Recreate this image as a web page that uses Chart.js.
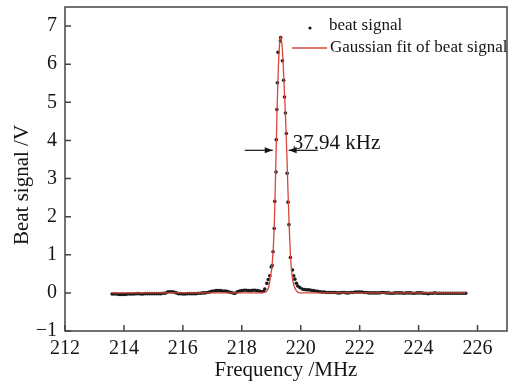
<!DOCTYPE html>
<html>
<head>
<meta charset="utf-8">
<script src="https://cdn.jsdelivr.net/npm/chart.js@4.4.1/dist/chart.umd.min.js"></script>
<style>
  body { margin: 0; background: #fff; }
  #wrap { width: 511px; height: 384px; }
</style>
</head>
<body>
<div id="wrap"><canvas id="beatChart" width="511" height="384"></canvas></div>
<script>
// beat signal, baseline left of the peak
var leftX = [213.600, 213.675, 213.750, 213.825, 213.900, 213.975, 214.050, 214.125, 214.200, 214.275,
             214.350, 214.425, 214.500, 214.575, 214.650, 214.725, 214.800, 214.875, 214.950, 215.025,
             215.100, 215.175, 215.250, 215.325, 215.400, 215.475, 215.550, 215.625, 215.700, 215.775,
             215.850, 215.925, 216.000, 216.075, 216.150, 216.225, 216.300, 216.375, 216.450, 216.525,
             216.600, 216.675, 216.750, 216.825, 216.900, 216.975, 217.050, 217.125, 217.200, 217.275,
             217.350, 217.425, 217.500, 217.575, 217.650, 217.725, 217.775, 217.850, 217.925, 218.000,
             218.075, 218.150, 218.225, 218.300, 218.375, 218.450, 218.525, 218.600, 218.675, 218.740];
var leftY = [-0.03, -0.03, -0.03, -0.04, -0.04, -0.04, -0.04, -0.03, -0.03, -0.03,
             -0.03, -0.02, -0.02, -0.03, -0.03, -0.02, -0.02, -0.02, -0.02, -0.02,
             -0.02, -0.02, -0.02, -0.01, -0.01, 0.02, 0.03, 0.03, 0.02, 0.00,
             -0.02, -0.02, -0.03, -0.03, -0.02, -0.02, -0.02, -0.02, -0.02, -0.01,
             -0.01, 0.00, 0.00, 0.01, 0.02, 0.04, 0.05, 0.06, 0.06, 0.06,
             0.05, 0.05, 0.04, 0.02, 0.01, -0.01, -0.01, 0.03, 0.05, 0.06,
             0.07, 0.07, 0.06, 0.06, 0.07, 0.07, 0.06, 0.05, 0.03, 0.04];

// beat signal, the peak
var peakX = [218.78, 218.85, 218.90, 218.95, 219.00, 219.03, 219.06, 219.10, 219.12, 219.16,
             219.17, 219.19, 219.21, 219.23, 219.31, 219.32, 219.38, 219.42, 219.45, 219.48,
             219.51, 219.54, 219.57, 219.60, 219.65, 219.72, 219.76, 219.80, 219.85, 219.90,
             219.97];
var peakY = [0.10, 0.25, 0.35, 0.45, 0.68, 0.72, 1.08, 1.69, 2.40, 3.17,
             4.02, 4.81, 5.51, 6.31, 6.61, 6.70, 6.09, 5.58, 5.14, 4.72,
             4.18, 3.14, 2.38, 1.79, 0.93, 0.60, 0.45, 0.36, 0.25, 0.18,
             0.14];

// beat signal, baseline right of the peak
var rightX = [220.050, 220.125, 220.200, 220.275, 220.350, 220.425, 220.500, 220.575, 220.650, 220.725,
              220.800, 220.875, 220.950, 221.025, 221.100, 221.175, 221.250, 221.325, 221.400, 221.475,
              221.550, 221.625, 221.700, 221.775, 221.850, 221.925, 222.000, 222.075, 222.150, 222.225,
              222.300, 222.375, 222.450, 222.525, 222.600, 222.675, 222.750, 222.825, 222.900, 222.975,
              223.050, 223.125, 223.200, 223.275, 223.350, 223.425, 223.500, 223.575, 223.650, 223.725,
              223.800, 223.875, 223.950, 224.025, 224.100, 224.175, 224.250, 224.325, 224.400, 224.475,
              224.550, 224.625, 224.700, 224.775, 224.850, 224.925, 225.000, 225.075, 225.150, 225.225,
              225.300, 225.375, 225.450, 225.525, 225.600];
var rightY = [0.10, 0.09, 0.08, 0.08, 0.07, 0.06, 0.05, 0.04, 0.03, 0.02,
              0.02, 0.01, 0.01, 0.01, 0.01, 0.01, 0.00, 0.00, 0.01, 0.01,
              0.00, 0.00, 0.01, 0.01, 0.02, 0.02, 0.02, 0.02, 0.01, 0.01,
              0.00, 0.00, 0.00, 0.00, 0.00, 0.00, 0.01, 0.01, 0.00, 0.00,
              -0.01, -0.01, 0.00, 0.00, 0.00, 0.00, -0.01, 0.00, 0.00, 0.00,
              -0.01, -0.01, 0.00, 0.00, 0.00, -0.01, -0.01, -0.02, -0.01, -0.01,
              0.00, -0.01, -0.01, -0.01, -0.01, -0.01, -0.01, -0.01, -0.01, -0.01,
              -0.01, -0.01, -0.01, -0.01, -0.01];

// gaussian fit (red line)
var fitX = [213.60, 218.60, 218.80, 218.90, 218.97, 219.03, 219.07, 219.11, 219.14, 219.17,
            219.20, 219.24, 219.28, 219.32, 219.37, 219.41, 219.45, 219.49, 219.53, 219.57,
            219.61, 219.65, 219.70, 219.76, 219.85, 219.97, 225.60];
var fitY = [0.00, 0.00, 0.02, 0.12, 0.40, 0.75, 1.20, 2.00, 2.90, 3.90,
            4.90, 5.90, 6.50, 6.72, 6.45, 5.90, 5.20, 4.50, 3.60, 2.60,
            1.70, 1.00, 0.50, 0.22, 0.06, 0.00, 0.00];

var xTickVals = [212, 214, 216, 218, 220, 222, 224, 226];
var yTickVals = [-1, 0, 1, 2, 3, 4, 5, 6, 7];

// FWHM marker
var fwhmY = 3.74;
var fwhmLeft = [218.10, 219.05];
var fwhmRight = [220.58, 219.59];
var fwhmText = '37.94 kHz';
var fwhmTextX = 219.73;

var serif = '"Liberation Serif", "Times New Roman", serif';
var ink = '#151515';

function toPoints(xs, ys) {
	return xs.map(function(v, i) { return { x: v, y: ys[i] }; });
}

function arrow(ctx, x1, y1, x2, y2) {
	ctx.beginPath();
	ctx.moveTo(x1, y1);
	ctx.lineTo(x2, y2);
	ctx.stroke();
	var dir = x2 > x1 ? 1 : -1;
	ctx.beginPath();
	ctx.moveTo(x2, y2);
	ctx.lineTo(x2 - dir * 8, y2 - 3);
	ctx.lineTo(x2 - dir * 8, y2 + 3);
	ctx.closePath();
	ctx.fill();
}

var decor = {
	id: 'decor',
	afterDraw: function(chart) {
		var ctx = chart.ctx, a = chart.chartArea;
		var x = chart.scales.x, y = chart.scales.y;
		ctx.save();
		// frame + inward ticks
		ctx.strokeStyle = '#444';
		ctx.lineWidth = 1.5;
		ctx.strokeRect(a.left, a.top, a.right - a.left, a.bottom - a.top);
		ctx.beginPath();
		xTickVals.forEach(function(v) {
			var px = x.getPixelForValue(v);
			ctx.moveTo(px, a.bottom);
			ctx.lineTo(px, a.bottom - 6);
		});
		yTickVals.forEach(function(v) {
			var py = y.getPixelForValue(v);
			ctx.moveTo(a.left, py);
			ctx.lineTo(a.left + 6, py);
		});
		ctx.stroke();

		// y title
		ctx.fillStyle = ink;
		ctx.font = '21px ' + serif;
		ctx.textAlign = 'center';
		ctx.textBaseline = 'middle';
		ctx.save();
		ctx.translate(22, 185);
		ctx.rotate(-Math.PI / 2);
		ctx.fillText('Beat signal /V', 0, 0);
		ctx.restore();

		// legend
		ctx.textAlign = 'left';
		ctx.font = '17px ' + serif;
		ctx.beginPath();
		ctx.arc(310, 28, 1.6, 0, Math.PI * 2);
		ctx.fill();
		ctx.fillText('beat signal', 329, 26);
		ctx.strokeStyle = '#d8453c';
		ctx.lineWidth = 1.3;
		ctx.beginPath();
		ctx.moveTo(292, 48);
		ctx.lineTo(327, 48);
		ctx.stroke();
		ctx.fillText('Gaussian fit of beat signal', 330, 48);

		// FWHM arrows and label
		var ay = y.getPixelForValue(fwhmY);
		ctx.strokeStyle = ink;
		ctx.fillStyle = ink;
		ctx.lineWidth = 1.2;
		arrow(ctx, x.getPixelForValue(fwhmLeft[0]), ay, x.getPixelForValue(fwhmLeft[1]), ay);
		arrow(ctx, x.getPixelForValue(fwhmRight[0]), ay, x.getPixelForValue(fwhmRight[1]), ay);
		ctx.font = '21px ' + serif;
		ctx.textBaseline = 'alphabetic';
		ctx.fillText(fwhmText, x.getPixelForValue(fwhmTextX), ay - 1);
		ctx.restore();
	}
};

new Chart(document.getElementById('beatChart'), {
	type: 'scatter',
	data: {
		datasets: [
			{
				type: 'line',
				label: 'Gaussian fit of beat signal',
				data: toPoints(fitX, fitY),
				borderColor: '#d8453c',
				borderWidth: 1.3,
				pointRadius: 0,
				fill: false,
				cubicInterpolationMode: 'monotone',
				order: 0
			},
			{
				label: 'beat signal',
				data: toPoints(leftX, leftY).concat(toPoints(peakX, peakY), toPoints(rightX, rightY)),
				backgroundColor: '#1a1a1a',
				borderWidth: 0,
				pointRadius: 1.8,
				order: 1
			}
		]
	},
	options: {
		responsive: false,
		animation: false,
		devicePixelRatio: 1,
		layout: { padding: { left: 0, right: 4, top: 7, bottom: 0 } },
		plugins: { legend: { display: false }, tooltip: { enabled: false } },
		scales: {
			x: {
				type: 'linear',
				min: 212,
				max: 227,
				afterBuildTicks: function(s) { s.ticks = xTickVals.map(function(v) { return { value: v }; }); },
				afterFit: function(s) { s.height = 53; s.paddingLeft = 0; s.paddingRight = 0; },
				grid: { display: false, drawTicks: false },
				border: { display: false },
				ticks: { color: ink, padding: 6, maxRotation: 0, font: { family: serif, size: 20 } },
				title: { display: true, text: 'Frequency /MHz', color: ink, padding: { top: 0, bottom: 1 }, font: { family: serif, size: 21 } }
			},
			y: {
				type: 'linear',
				min: -1,
				max: 7.5,
				afterBuildTicks: function(s) { s.ticks = yTickVals.map(function(v) { return { value: v }; }); },
				afterFit: function(s) { s.width = 65; s.paddingTop = 0; s.paddingBottom = 0; },
				grid: { display: false, drawTicks: false },
				border: { display: false },
				ticks: {
					color: ink, padding: 8, font: { family: serif, size: 20 },
					callback: function(v) { return String(v).replace('-', '\u2212'); }
				}
			}
		}
	},
	plugins: [decor]
});
</script>
</body>
</html>
